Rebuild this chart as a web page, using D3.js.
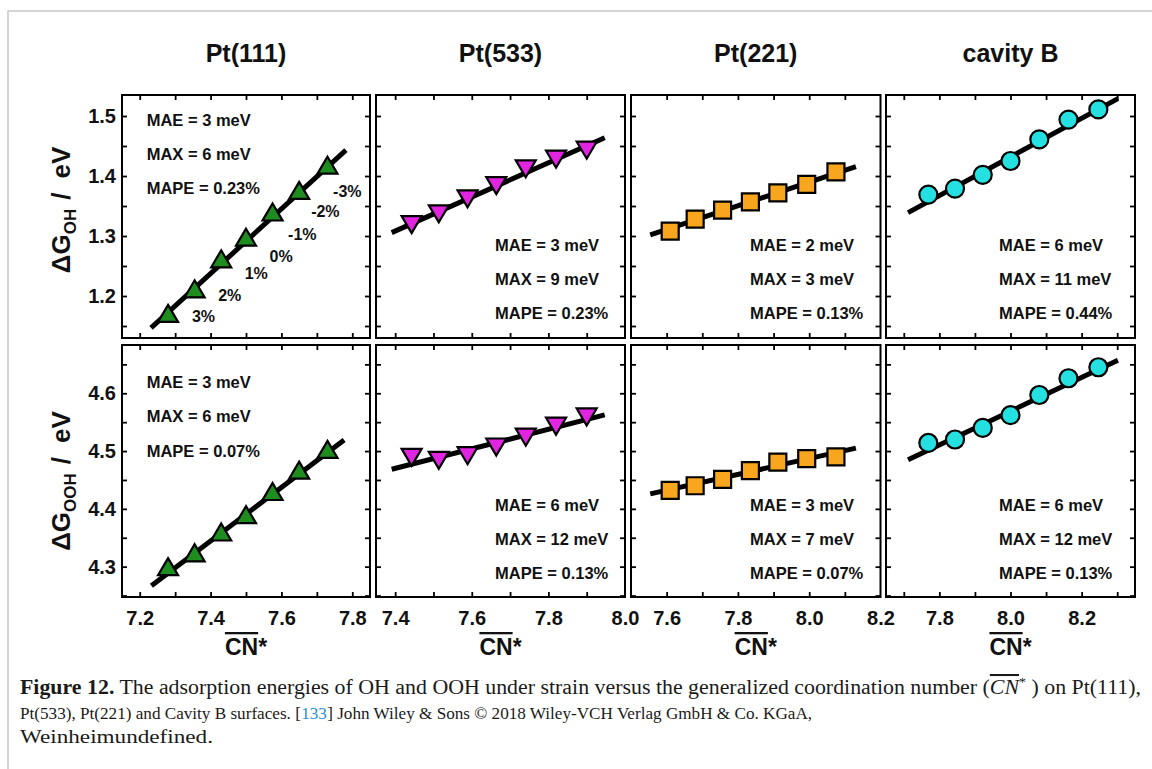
<!DOCTYPE html>
<html><head><meta charset="utf-8">
<script src="https://cdn.jsdelivr.net/npm/d3@7"></script>
<style>
html,body{margin:0;padding:0;background:#fff;}
svg{display:block;}
</style></head><body>
<svg id="chart" width="1152" height="769"></svg>
<script>
// ---------------- data ----------------
const panelTitles = ["Pt(111)", "Pt(533)", "Pt(221)", "cavity B"];

const cnPt111 = [7.28, 7.355, 7.43, 7.50, 7.575, 7.65, 7.73];
const ohPt111 = [1.171, 1.212, 1.262, 1.298, 1.340, 1.376, 1.418];
const oohPt111 = [4.300, 4.324, 4.360, 4.390, 4.430, 4.467, 4.503];

const cnPt533 = [7.443, 7.514, 7.589, 7.664, 7.741, 7.820, 7.900];
const ohPt533 = [1.319, 1.337, 1.362, 1.384, 1.412, 1.428, 1.443];
const oohPt533 = [4.489, 4.484, 4.492, 4.507, 4.524, 4.543, 4.559];

const cnPt221 = [7.610, 7.680, 7.757, 7.835, 7.912, 7.993, 8.075];
const ohPt221 = [1.308, 1.328, 1.343, 1.357, 1.372, 1.386, 1.407];
const oohPt221 = [4.432, 4.440, 4.451, 4.466, 4.481, 4.487, 4.490];

const cnCavB = [7.769, 7.844, 7.922, 8.000, 8.081, 8.163, 8.247];
const ohCavB = [1.369, 1.379, 1.402, 1.425, 1.461, 1.494, 1.511];
const oohCavB = [4.514, 4.520, 4.540, 4.562, 4.597, 4.626, 4.645];

// fitted lines: [cnStart, valueStart, cnEnd, valueEnd]
const fitOH = [[7.232, 1.147, 7.782, 1.443], [7.391, 1.3056, 7.947, 1.4639],
               [7.554, 1.302, 8.131, 1.4156], [7.712, 1.339, 8.302, 1.529]];
const fitOOH = [[7.233, 4.267, 7.777, 4.519], [7.391, 4.4685, 7.947, 4.5625],
                [7.554, 4.426, 8.131, 4.505], [7.712, 4.485, 8.302, 4.657]];

const statsOH = [["MAE = 3 meV", "MAX = 6 meV", "MAPE = 0.23%"],
                 ["MAE = 3 meV", "MAX = 9 meV", "MAPE = 0.23%"],
                 ["MAE = 2 meV", "MAX = 3 meV", "MAPE = 0.13%"],
                 ["MAE = 6 meV", "MAX = 11 meV", "MAPE = 0.44%"]];
const statsOOH = [["MAE = 3 meV", "MAX = 6 meV", "MAPE = 0.07%"],
                  ["MAE = 6 meV", "MAX = 12 meV", "MAPE = 0.13%"],
                  ["MAE = 3 meV", "MAX = 7 meV", "MAPE = 0.07%"],
                  ["MAE = 6 meV", "MAX = 12 meV", "MAPE = 0.13%"]];

const strainLabels = ["3%", "2%", "1%", "0%", "-1%", "-2%", "-3%"];
const strainLabelCN = [7.380, 7.454, 7.529, 7.599, 7.659, 7.724, 7.786];
const strainLabelVal = [1.1655, 1.2017, 1.2378, 1.2655, 1.3033, 1.3405, 1.3738];

const xDomains = [[7.15, 7.85], [7.35, 8.0], [7.5, 8.2], [7.65, 8.35]];
const xTickLabels = [[7.2, 7.4, 7.6, 7.8], [7.4, 7.6, 7.8, 8.0], [7.6, 7.8, 8.0, 8.2], [7.8, 8.0, 8.2]];
const yDomainOH = [1.13, 1.535];
const yDomainOOH = [4.2475, 4.6835];
const yTickLabelsOH = [1.2, 1.3, 1.4, 1.5];
const yTickLabelsOOH = [4.3, 4.4, 4.5, 4.6];

// ---------------- layout ----------------
const cnSets = [cnPt111, cnPt533, cnPt221, cnCavB];
const rows = [
  {vals: [ohPt111, ohPt533, ohPt221, ohCavB], fit: fitOH, stats: statsOH, dom: yDomainOH, labels: yTickLabelsOH, sub: "OH"},
  {vals: [oohPt111, oohPt533, oohPt221, oohCavB], fit: fitOOH, stats: statsOOH, dom: yDomainOOH, labels: yTickLabelsOOH, sub: "OOH"}
];
const colX = [122, 376, 631, 886];
const colW = [248, 249, 249.5, 249];
const rowY = [95, 345];
const rowH = [243, 252];
const markerFill = ["#1f8c1f", "#e024e0", "#f7a61e", "#24e0e0"];
const markerType = ["up", "down", "square", "circle"];
// stats block offsets inside each panel (left x, first line centre y)
const statsPos = [
  [[24.7, 25], [119, 150], [119, 150], [113, 150]],
  [[24.7, 36.7], [119, 160], [119, 160], [113, 160]]
];
const statsGap = [[34, 34, 34, 34], [34.5, 34, 34, 34]];

const SANS = "'Liberation Sans', Arial, Helvetica, sans-serif";
const svg = d3.select("#chart");

// outer frame
svg.append("rect").attr("x", 8).attr("y", 11).attr("width", 1300).attr("height", 900)
  .attr("fill", "none").attr("stroke", "#c6c6c6").attr("stroke-width", 1.5);

function markerPath(type) {
  if (type === "up") return "M0,-8.5L10,8.5L-10,8.5Z";
  if (type === "down") return "M0,8.5L10,-8.5L-10,-8.5Z";
  if (type === "square") return "M-8.5,-8.5H8.5V8.5H-8.5Z";
  return d3.symbol(d3.symbolCircle, Math.PI * 9 * 9)();
}

rows.forEach((row, r) => {
  for (let c = 0; c < 4; c++) {
    const x = d3.scaleLinear().domain(xDomains[c]).range([colX[c], colX[c] + colW[c]]);
    const y = d3.scaleLinear().domain(row.dom).range([rowY[r] + rowH[r], rowY[r]]);
    const g = svg.append("g");

    const xt = d3.range(Math.ceil(xDomains[c][0] * 10 + 1e-6), Math.floor(xDomains[c][1] * 10 - 1e-6) + 1).map(v => v / 10);
    const yt = d3.range(Math.ceil(row.dom[0] * 20 + 1e-6), Math.floor(row.dom[1] * 20 - 1e-6) + 1).map(v => v / 20);

    const tickAxes = [
      [d3.axisBottom(x).tickValues(xt), `translate(0,${rowY[r] + rowH[r]})`],
      [d3.axisTop(x).tickValues(xt), `translate(0,${rowY[r]})`],
      [d3.axisLeft(y).tickValues(yt), `translate(${colX[c]},0)`],
      [d3.axisRight(y).tickValues(yt), `translate(${colX[c] + colW[c]},0)`]
    ];
    tickAxes.forEach(([ax, tr]) => {
      const a = g.append("g").attr("transform", tr).call(ax.tickSize(-5).tickFormat(""));
      a.select(".domain").remove();
      a.selectAll("line").attr("stroke", "#000").attr("stroke-width", 1.8);
    });

    // frame
    g.append("rect").attr("x", colX[c]).attr("y", rowY[r]).attr("width", colW[c]).attr("height", rowH[r])
      .attr("fill", "none").attr("stroke", "#000").attr("stroke-width", 2);

    // tick labels
    if (r === 1) {
      const a = g.append("g").attr("transform", `translate(0,${rowY[r] + rowH[r]})`)
        .call(d3.axisBottom(x).tickValues(xTickLabels[c]).tickSize(0).tickPadding(13.5).tickFormat(d3.format(".1f")));
      a.select(".domain").remove();
      a.selectAll("text").attr("font-family", SANS).attr("font-weight", "bold").attr("font-size", 20).attr("fill", "#111");
    }
    if (c === 0) {
      const a = g.append("g").attr("transform", `translate(${colX[c]},0)`)
        .call(d3.axisLeft(y).tickValues(row.labels).tickSize(0).tickPadding(6).tickFormat(d3.format(".1f")));
      a.select(".domain").remove();
      a.selectAll("text").attr("font-family", SANS).attr("font-weight", "bold").attr("font-size", 20).attr("fill", "#111");
    }

    // fit line
    const f = row.fit[c];
    g.append("line").attr("x1", x(f[0])).attr("y1", y(f[1])).attr("x2", x(f[2])).attr("y2", y(f[3]))
      .attr("stroke", "#000").attr("stroke-width", 5);

    // markers
    const pts = cnSets[c].map((cn, i) => [cn, row.vals[c][i]]);
    g.selectAll("path.mk").data(pts).join("path").attr("class", "mk")
      .attr("transform", d => `translate(${x(d[0])},${y(d[1])})`)
      .attr("d", markerPath(markerType[c]))
      .attr("fill", markerFill[c]).attr("stroke", "#000").attr("stroke-width", 2.2)
      .attr("stroke-linejoin", "miter");

    // stats text
    const sp = statsPos[r][c];
    row.stats[c].forEach((s, i) => {
      g.append("text").attr("x", colX[c] + sp[0]).attr("y", rowY[r] + sp[1] + i * statsGap[r][c])
        .attr("dy", "0.36em").attr("font-family", SANS).attr("font-weight", "bold")
        .attr("font-size", 16.5).attr("fill", "#111").text(s);
    });

    // strain labels (Pt(111), OH)
    if (r === 0 && c === 0) {
      strainLabels.forEach((s, i) => {
        g.append("text").attr("x", x(strainLabelCN[i])).attr("y", y(strainLabelVal[i]))
          .attr("dy", "0.36em").attr("text-anchor", "middle")
          .attr("font-family", SANS).attr("font-weight", "bold").attr("font-size", 16)
          .attr("fill", "#111").text(s);
      });
    }

    // titles
    if (r === 0) {
      svg.append("text").attr("x", colX[c] + colW[c] / 2).attr("y", 62).attr("text-anchor", "middle")
        .attr("font-family", SANS).attr("font-weight", "bold").attr("font-size", 25).attr("fill", "#111")
        .text(panelTitles[c]);
    }
    // x-axis title
    if (r === 1) {
      const t = svg.append("text").attr("x", colX[c] + colW[c] / 2).attr("y", 655).attr("text-anchor", "middle")
        .attr("font-family", SANS).attr("font-weight", "bold").attr("font-size", 23).attr("fill", "#111");
      t.append("tspan").style("text-decoration", "overline").text("CN");
      t.append("tspan").text("*");
    }
  }
  // y-axis title
  const cy = r === 0 ? 210 : 481;
  const t = svg.append("text").attr("transform", `translate(70,${cy}) rotate(-90)`).attr("text-anchor", "middle")
    .attr("font-family", SANS).attr("font-weight", "bold").attr("font-size", 26).attr("fill", "#111");
  t.append("tspan").text("ΔG");
  t.append("tspan").attr("font-size", 17).attr("dy", 6).text(row.sub);
  t.append("tspan").attr("dy", -6).attr("dx", 9).text("/");
  t.append("tspan").attr("dx", 14).text("eV");
});

// ---------------- caption ----------------
const SERIF = "'Liberation Serif', 'Times New Roman', serif";
const cap = svg.append("g").attr("font-family", SERIF).attr("fill", "#1a1a1a").style("white-space", "pre");
const l1 = cap.append("text").attr("x", 20).attr("y", 694).attr("font-size", 20.5)
  .attr("textLength", 1121).attr("lengthAdjust", "spacingAndGlyphs");
l1.append("tspan").attr("font-weight", "bold").text("Figure 12.");
l1.append("tspan").text(" The adsorption energies of OH and OOH under strain versus the generalized coordination number (");
l1.append("tspan").attr("font-style", "italic").style("text-decoration", "overline").text("CN");
l1.append("tspan").attr("font-size", 13).attr("dy", -8).text("*");
l1.append("tspan").attr("dy", 8).text(" ) on Pt(111),");

// line 2 as separate segments; font size chosen so the natural width fits the line
const line2Segments = [
  {t: "Pt(533), Pt(221) and Cavity B surfaces. [", fill: "#1a1a1a"},
  {t: "133", fill: "#2b8fd2"},
  {t: "] John Wiley & Sons © 2018 Wiley-VCH Verlag GmbH & Co. KGaA,", fill: "#1a1a1a"}
];
const segEls = line2Segments.map(s => cap.append("text").attr("y", 719).attr("font-size", 18)
  .attr("fill", s.fill).text(s.t));
const natural = segEls.map(e => e.node().getComputedTextLength());
const fs2 = 18 * 792 / d3.sum(natural);
segEls.forEach(e => e.attr("font-size", fs2));
let cx2 = 20;
segEls.forEach(e => {
  e.attr("x", cx2);
  cx2 += e.node().getComputedTextLength() + 0.3;
});

cap.append("text").attr("x", 20).attr("y", 743).attr("font-size", 19.5)
  .attr("textLength", 193).attr("lengthAdjust", "spacingAndGlyphs")
  .text("Weinheimundefined.");
</script>
</body></html>
